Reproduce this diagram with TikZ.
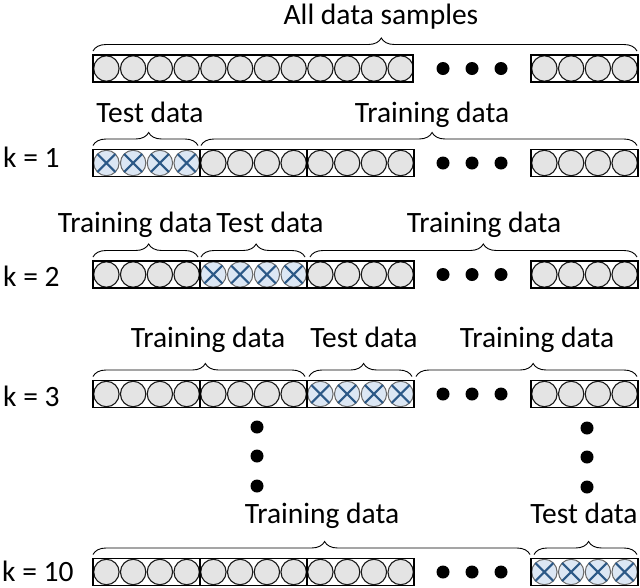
\documentclass[tikz,border=0pt]{standalone}
\usepackage{fontspec}
\setmainfont{Carlito}
\usetikzlibrary{decorations.pathreplacing}

\definecolor{samplegray}{HTML}{E4E4E4}
\definecolor{testblue}{HTML}{DCE7F4}
\definecolor{crossblue}{HTML}{2C5987}

\tikzset{
    bar/.style={draw=black, line width=1.3pt},
    sample/.style={draw=black!90, fill=samplegray, line width=1.1pt},
    testsample/.style={draw=black!60, fill=testblue, line width=1pt},
    cross/.style={draw=crossblue, line width=2.2pt},
    bigdot/.style={fill=black},
    brc/.style={decorate, decoration={brace, amplitude=13pt, aspect=0.53}, line width=0.9pt},
    lbl/.style={font=\fontsize{29.5}{33}\selectfont, anchor=base, inner sep=0pt},
    klbl/.style={lbl, anchor=base west},
}

% block of four samples: left edge, centre line
\newcommand{\block}[2]{%
    \foreach \i in {0,...,3}
        \draw[sample] (#1+13.4+26.75*\i,#2) circle[radius=12.7pt];
    \draw[bar] (#1,#2-13.5) rectangle ++(107,27);
}
\newcommand{\testblock}[2]{%
    \foreach \i in {0,...,3} {
        \path (#1+13.4+26.75*\i,#2) coordinate (c);
        \draw[testsample] (c) circle[radius=12.7pt];
        \draw[cross] ([shift={(-9,-9)}]c) -- ([shift={(9,9)}]c)
                     ([shift={(-9,9)}]c) -- ([shift={(9,-9)}]c);
    }
    \draw[bar] (#1,#2-13.5) rectangle ++(107,27);
}
\newcommand{\hdots}[1]{%
    \foreach \x in {443,472,501}
        \fill[bigdot] (\x,#1) circle[radius=6.5pt];
}

\begin{document}
\begin{tikzpicture}[x=1pt, y=1pt]
    \useasboundingbox (0,0) rectangle (640,-587);

    % all samples
    \foreach \i in {0,...,11}
        \draw[sample] (93+13.4+26.75*\i,-68.5) circle[radius=12.7pt];
    \draw[bar] (93,-55) rectangle (413,-82);
    \hdots{-68.5}
    \block{531}{-68.5}
    \draw[brc] (93,-51) -- (637,-51);
    \node[lbl] (all) at (381,-24) {All data samples};

    % k = 1
    \node[klbl] (k1) at (3,-167) {k = 1};
    \testblock{93}{-163}
    \block{200}{-163}
    \block{307}{-163}
    \hdots{-163}
    \block{531}{-163}
    \draw[brc] (93,-145.5) -- (198,-145.5);
    \draw[brc] (201,-145.5) -- (637,-145.5);
    \node[lbl] (test1) at (150,-122) {Test data};
    \node[lbl] (train1) at (432,-122) {Training data};

    % k = 2
    \node[klbl] (k2) at (3,-286) {k = 2};
    \block{93}{-274.5}
    \testblock{200}{-274.5}
    \block{307}{-274.5}
    \hdots{-274.5}
    \block{531}{-274.5}
    \draw[brc] (93,-257) -- (198,-257);
    \draw[brc] (201,-257) -- (305,-257);
    \draw[brc] (310,-257) -- (637,-257);
    \node[lbl] (train2a) at (135,-232) {Training data};
    \node[lbl] (test2) at (270,-232) {Test data};
    \node[lbl] (train2b) at (484,-232) {Training data};

    % k = 3
    \node[klbl] (k3) at (3,-406) {k = 3};
    \block{93}{-394}
    \block{200}{-394}
    \testblock{307}{-394}
    \hdots{-394}
    \block{531}{-394}
    \draw[brc] (93,-376.5) -- (305,-376.5);
    \draw[brc] (309,-376.5) -- (412,-376.5);
    \draw[brc] (416,-376.5) -- (637,-376.5);
    \node[lbl] (train3a) at (208,-347) {Training data};
    \node[lbl] (test3) at (364,-347) {Test data};
    \node[lbl] (train3b) at (537,-347) {Training data};

    % vertical dots
    \foreach \y in {427,456,486} {
        \fill[bigdot] (257,-\y) circle[radius=6.5pt];
        \fill[bigdot] (587,-\y-1) circle[radius=6.5pt];
    }

    % k = 10
    \node[klbl] (k10) at (2,-581) {k = 10};
    \block{93}{-572}
    \block{200}{-572}
    \block{307}{-572}
    \hdots{-572}
    \testblock{531}{-572}
    \draw[brc] (93,-554.5) -- (530,-554.5);
    \draw[brc] (534,-554.5) -- (637,-554.5);
    \node[lbl] (train10) at (322,-523) {Training data};
    \node[lbl] (test10) at (584,-523) {Test data};
\end{tikzpicture}
\end{document}
